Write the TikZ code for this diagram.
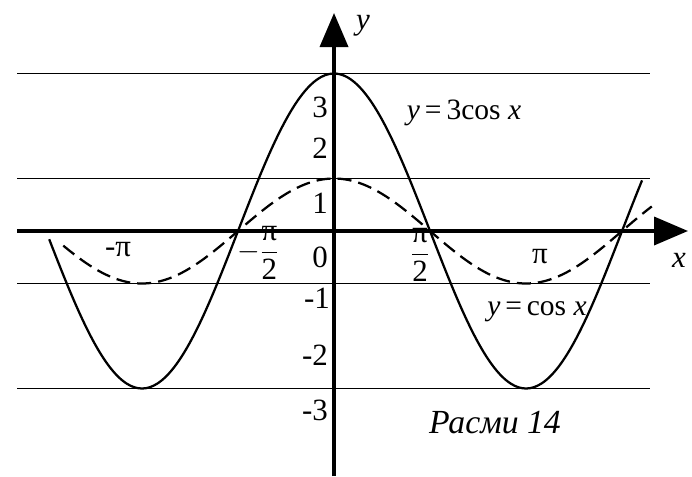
\documentclass[tikz,border=0pt]{standalone}
\usepackage{amsmath}
\usepackage{fontspec}
\setmainfont{Liberation Serif}
\usetikzlibrary{arrows.meta}

\begin{document}
\begin{tikzpicture}[
    x=1.528cm, y=1.3125cm,
    axis/.style={line width=2.6pt, -{Triangle[length=0.85cm,width=0.7cm]}},
    level/.style={line width=1.4pt},
    curve/.style={line width=1.6pt, smooth, samples=160},
    lbl/.style={font=\fontsize{22}{26}\selectfont, inner sep=0pt},
    fn/.style={font=\fontsize{21}{25}\selectfont, inner sep=0pt}
]
\useasboundingbox (-5.465,-4.667) rectangle (5.857,4.4);
% levels y = 3, 1, -1, -3
\foreach \v in {3,1,-1,-3}
  \draw[level] (-5.186,\v) -- (5.17,\v);
% axes
\coordinate (xs) at (-5.186,0);
\coordinate (xe) at (5.792,0);
\coordinate (ys) at (0,-4.667);
\coordinate (ye) at (0,4.152);
\draw[axis] (xs) -- (xe);
\draw[axis] (ys) -- (ye);
\node[lbl, font=\fontsize{22}{26}\selectfont\itshape] (ylbl) at (0.474,3.905) {y};
\node[lbl, font=\fontsize{22}{26}\selectfont\itshape] (xlbl) at (5.645,-0.552) {x};
% graphs
\draw[curve, domain=-4.66:5.04] plot (\x,{3*cos(\x r)});
\draw[curve, dash pattern=on 10pt off 5pt, domain=-4.43:5.2] plot (\x,{cos(\x r)});
% values on y
\node[lbl] (t3) at (-0.229,2.362) {3};
\node[lbl] (t2) at (-0.229,1.581) {2};
\node[lbl] (t1) at (-0.229,0.533) {1};
\node[lbl] (t0) at (-0.229,-0.495) {0};
\node[lbl] (tm1) at (-0.278,-1.276) {-1};
\node[lbl] (tm2) at (-0.311,-2.362) {-2};
\node[lbl] (tm3) at (-0.311,-3.41) {-3};
% values on x
\node[lbl] (mpi) at (-3.534,-0.362) {-π};
\node[lbl] (mhpi) at (-1.243,-0.419) {$-\dfrac{\text{π}}{\text{2}}$};
\node[lbl] (hpi) at (1.407,-0.457) {$\dfrac{\text{π}}{\text{2}}$};
\node[lbl] (pi) at (3.370,-0.495) {π};
% captions
\node[fn] (f3) at (2.127,2.248) {\textit{y}\,=\,3cos \textit{x}};
\node[fn] (f1) at (3.321,-1.543) {\textit{y}\,=\,cos \textit{x}};
\node[fn, font=\fontsize{24}{28}\selectfont\itshape] (cap) at (2.634,-3.657) {Расми 14};
\end{tikzpicture}
\end{document}
